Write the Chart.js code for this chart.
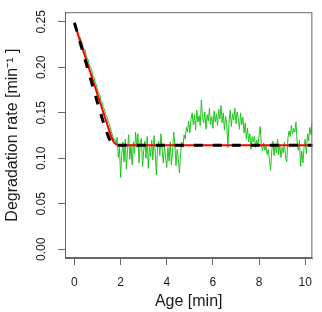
<!DOCTYPE html>
<html>
<head>
<meta charset="utf-8">
<title>Degradation rate</title>
<script src="https://cdn.jsdelivr.net/npm/chart.js@4.4.1/dist/chart.umd.min.js"></script>
<style>
  html, body { margin: 0; padding: 0; background: #ffffff; }
  #rateChart { display: block; }
</style>
</head>
<body>
<canvas id="rateChart" width="322" height="312"></canvas>
<script>
// ---- data ----

// measured rate, one sample every 0.05 min starting at age 0
const sampleStep = 0.05;
const measuredRate = [
  0.246, 0.243, 0.240, 0.238, 0.232, 0.233, 0.228, 0.226, 0.219, 0.220,
  0.214, 0.210, 0.208, 0.202, 0.200, 0.197, 0.190, 0.189, 0.183, 0.181,
  0.175, 0.172, 0.170, 0.163, 0.161, 0.156, 0.154, 0.148, 0.147, 0.141,
  0.138, 0.134, 0.129, 0.126, 0.120, 0.121, 0.116, 0.123, 0.101, 0.112,
  0.079, 0.104, 0.118, 0.096, 0.121, 0.088, 0.110, 0.126, 0.099, 0.115,
  0.093, 0.118, 0.105, 0.129, 0.112, 0.127, 0.095, 0.117, 0.122, 0.091,
  0.108, 0.119, 0.100, 0.124, 0.089, 0.113, 0.102, 0.120, 0.098, 0.125,
  0.107, 0.082, 0.111, 0.119, 0.103, 0.127, 0.109, 0.095, 0.114, 0.101,
  0.090, 0.112, 0.097, 0.118, 0.093, 0.106, 0.129, 0.115, 0.092, 0.110,
  0.100, 0.084, 0.105, 0.118, 0.112, 0.126, 0.121, 0.134, 0.129, 0.141,
  0.128, 0.143, 0.150, 0.137, 0.148, 0.131, 0.153, 0.140, 0.147, 0.136,
  0.164, 0.145, 0.139, 0.151, 0.132, 0.148, 0.141, 0.155, 0.137, 0.146,
  0.133, 0.152, 0.140, 0.149, 0.136, 0.154, 0.143, 0.158, 0.139, 0.150,
  0.131, 0.146, 0.138, 0.112, 0.141, 0.153, 0.135, 0.149, 0.142, 0.155,
  0.138, 0.151, 0.144, 0.132, 0.150, 0.137, 0.145, 0.128, 0.139, 0.121,
  0.133, 0.118, 0.127, 0.110, 0.124, 0.118, 0.124, 0.112, 0.120, 0.114,
  0.125, 0.135, 0.115, 0.108, 0.117, 0.109, 0.114, 0.104, 0.110, 0.098,
  0.087, 0.108, 0.119, 0.103, 0.116, 0.106, 0.121, 0.104, 0.115, 0.101,
  0.112, 0.106, 0.118, 0.100, 0.096, 0.122, 0.130, 0.124, 0.136, 0.127,
  0.133, 0.129, 0.140, 0.118, 0.109, 0.120, 0.091, 0.108, 0.095, 0.112,
  0.121, 0.105, 0.127, 0.119, 0.134, 0.126, 0.139
];

// red fit (solid)
const fitAges = [0, 0.5, 1.0, 1.5, 1.6, 1.7, 1.8, 1.9, 2.0, 10.4];
const fitRate = [0.248, 0.209, 0.170, 0.131, 0.1235, 0.118, 0.1155, 0.1146, 0.1144, 0.1144];

// black model (dashed)
const modelAges = [0, 0.5, 1.0, 1.3, 1.5, 1.6, 1.7, 1.8, 10.4];
const modelRate = [0.249, 0.205, 0.161, 0.136, 0.122, 0.117, 0.1148, 0.1144, 0.1144];

// axis ticks
const ageTicks = [0, 2, 4, 6, 8, 10];
const rateTicks = [0, 0.05, 0.10, 0.15, 0.20, 0.25];

// ---- helpers ----
function toPoints(xs, ys) {
    return ys.map((y, i) => ({ x: xs[i], y: y }));
}

const measuredPoints = measuredRate.map((y, i) => ({ x: i * sampleStep, y: y }));

const frameColor = '#666666';
const textColor = '#1a1a1a';
const fontFamily = '"Liberation Sans", Arial, Helvetica, sans-serif';

// R-style box around the plotting region
const boxPlugin = {
    id: 'plotBox',
    afterDatasetsDraw(chart) {
        const a = chart.chartArea;
        const ctx = chart.ctx;
        ctx.save();
        ctx.strokeStyle = frameColor;
        ctx.lineWidth = 1;
        ctx.strokeRect(a.left + 0.5, a.top + 0.5, a.right - a.left - 1, a.bottom - a.top - 1);
        ctx.restore();
    }
};

new Chart(document.getElementById('rateChart'), {
    type: 'line',
    data: {
        datasets: [
            {
                label: 'measured',
                data: measuredPoints,
                borderColor: '#1fc41f',
                borderWidth: 1,
                pointRadius: 0,
                tension: 0,
                order: 3
            },
            {
                label: 'fit',
                data: toPoints(fitAges, fitRate),
                borderColor: '#ff0000',
                borderWidth: 2,
                pointRadius: 0,
                cubicInterpolationMode: 'monotone',
                order: 2
            },
            {
                label: 'model',
                data: toPoints(modelAges, modelRate),
                borderColor: '#000000',
                borderWidth: 3,
                borderDash: [9, 10],
                pointRadius: 0,
                cubicInterpolationMode: 'monotone',
                order: 1
            }
        ]
    },
    options: {
        responsive: false,
        animation: false,
        layout: { padding: { top: 3, right: 4, left: 0, bottom: 0 } },
        plugins: {
            legend: { display: false },
            tooltip: { enabled: false }
        },
        scales: {
            x: {
                type: 'linear',
                min: -0.41,
                max: 10.31,
                afterBuildTicks: axis => { axis.ticks = ageTicks.map(v => ({ value: v })); },
                afterFit: axis => { axis.height = 54; },
                grid: { drawOnChartArea: false, drawTicks: true, tickLength: 7, color: frameColor },
                border: { color: frameColor },
                ticks: {
                    color: textColor,
                    padding: 10,
                    maxRotation: 0,
                    font: { family: fontFamily, size: 12 },
                    callback: v => String(v)
                },
                title: {
                    display: true,
                    text: 'Age [min]',
                    color: textColor,
                    padding: { top: 0, bottom: 1 },
                    font: { family: fontFamily, size: 16, lineHeight: 1.2 }
                }
            },
            y: {
                type: 'linear',
                min: -0.0095,
                max: 0.2606,
                afterBuildTicks: axis => { axis.ticks = rateTicks.map(v => ({ value: v })); },
                afterFit: axis => { axis.width = 65; },
                grid: { drawOnChartArea: false, drawTicks: true, tickLength: 7, color: frameColor },
                border: { color: frameColor },
                ticks: {
                    color: textColor,
                    padding: 5,
                    minRotation: 90,
                    maxRotation: 90,
                    crossAlign: 'center',
                    font: { family: fontFamily, size: 12 },
                    callback: v => v.toFixed(2)
                },
                title: {
                    display: true,
                    text: 'Degradation rate [min\u207B\u00B9 ]',
                    color: textColor,
                    padding: { top: 3, bottom: 0 },
                    font: { family: fontFamily, size: 16, lineHeight: 1.2 }
                }
            }
        }
    },
    plugins: [boxPlugin]
});
</script>
</body>
</html>
